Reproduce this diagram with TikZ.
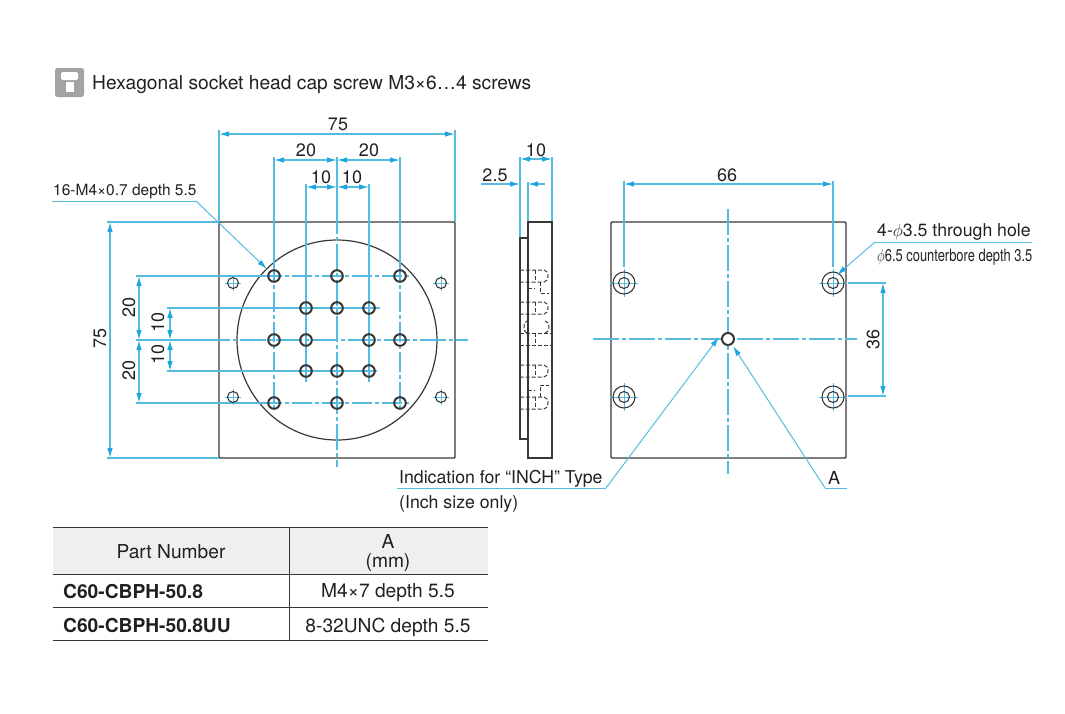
\documentclass[tikz,border=0pt]{standalone}
\usepackage{fontspec}
\setmainfont{TeX Gyre Heros}
\usetikzlibrary{arrows.meta}
\definecolor{dimblue}{HTML}{55BCDF}
\definecolor{tipblue}{HTML}{1DA6E0}
\definecolor{partline}{HTML}{3B3636}
\definecolor{inktext}{HTML}{231F20}
\definecolor{headgray}{HTML}{EFEFEF}
\definecolor{icongray}{HTML}{A3A3A3}
\tikzset{
    part/.style={draw=partline,line width=1.4pt},
    hole/.style={draw=partline,line width=2pt},
    thinhole/.style={draw=partline,line width=1.1pt},
    hidden/.style={draw=partline,line width=1pt,dash pattern=on 4pt off 2pt},
    extline/.style={draw=dimblue,line width=1.1pt},
    centerline/.style={draw=dimblue,line width=1.1pt,dash pattern=on 26pt off 3pt on 4pt off 3pt},
    shortcenter/.style={centerline,dash pattern=on 20pt off 3pt on 4pt off 3pt},
    dimline/.style={extline,{Latex[length=10pt,width=5.5pt,color=tipblue]}-{Latex[length=10pt,width=5.5pt,color=tipblue]}},
    leader/.style={extline,line width=1pt,-{Latex[length=10pt,width=5.5pt,color=tipblue]}},
    label/.style={font=\fontsize{18}{20}\selectfont,text=inktext,inner sep=0pt},
    note/.style={label,font=\fontsize{17.7}{20}\selectfont},
    tabletext/.style={label,font=\fontsize{19.2}{22}\selectfont},
    tablebold/.style={label,font=\fontsize{19.2}{22}\selectfont\bfseries},
    tablerule/.style={draw=partline,line width=0.9pt}
}
\begin{document}
\begin{tikzpicture}[x=1pt,y=-1pt]
    \useasboundingbox (0,0) rectangle (1065,713);

    % screw icon and title
    \draw[fill=icongray,draw=none,rounded corners=2.5pt] (55,68) rectangle (84,97);
    \fill[white,rounded corners=1.5pt] (61,80) -- (61,72) -- (78,72) -- (78,80) -- cycle;
    \fill[white] (66,82) rectangle (73.5,92);
    \node[tabletext,anchor=west] (title) at (92,85) {Hexagonal socket head cap screw M3×6…4 screws};

    % front plate
    \draw[part,rounded corners=1pt] (219,222) rectangle (455,458);
    \draw[part,line width=1.2pt] (337,340) circle (100);
    \draw[centerline] (204,340) -- (468,340);
    \draw[extline] (136,340) -- (204,340);
    \draw[extline] (337,157) -- (337,208);
    \draw[centerline] (337,208) -- (337,467);

    % hole lines, solid out to the dimension and centre line past the hole
    \foreach \xa in {274,400} {
        \draw[extline] (\xa,157) -- (\xa,262);
        \draw[shortcenter] (\xa,262) -- (\xa,410);
    }
    \foreach \xa in {306,369} {
        \draw[extline] (\xa,184) -- (\xa,382);
    }
    \foreach \ya in {276,403} {
        \draw[extline] (136,\ya) -- (262,\ya);
        \draw[shortcenter] (262,\ya) -- (410,\ya);
    }
    \foreach \ya/\xb in {308/380,371/377} {
        \draw[extline] (167,\ya) -- (\xb,\ya);
    }
    \draw[extline] (107,222) -- (219,222);
    \draw[extline] (107,458) -- (219,458);
    \draw[extline] (219,130) -- (219,222);
    \draw[extline] (455,130) -- (455,222);

    % tapped holes
    \foreach \xa/\ya in {274/276,337/276,400/276,306/308,337/308,369/308,274/340,306/340,369/340,400/340,306/371,337/371,369/371,274/403,337/403,400/403} {
        \draw[hole] (\xa,\ya) circle (5.8);
    }
    % small holes with cross lines
    \foreach \xa/\ya in {233/283,441/283,233/397,441/397} {
        \draw[extline,line width=1pt] (\xa-8,\ya) -- (\xa+8,\ya);
        \draw[extline,line width=1pt] (\xa,\ya-8) -- (\xa,\ya+8);
        \draw[thinhole] (\xa,\ya) circle (5.5);
    }

    % dimensions of the front plate
    \draw[dimline] (219,134) -- (455,134);
    \node[label] (d75top) at (338,124) {75};
    \draw[dimline] (274,160) -- (337,160);
    \draw[dimline] (337,160) -- (400,160);
    \node[label] (d20a) at (306,150) {20};
    \node[label] (d20b) at (369,150) {20};
    \draw[dimline] (306,187) -- (337,187);
    \draw[dimline] (337,187) -- (369,187);
    \node[label] (d10a) at (321,177) {10};
    \node[label] (d10b) at (352,177) {10};
    \draw[dimline] (110,222) -- (110,458);
    \node[label,rotate=90] (d75left) at (100,338) {75};
    \draw[dimline] (139,276) -- (139,340);
    \draw[dimline] (139,340) -- (139,403);
    \node[label,rotate=90] (d20c) at (129,307) {20};
    \node[label,rotate=90] (d20d) at (129,370) {20};
    \draw[dimline] (170,308) -- (170,340);
    \draw[dimline] (170,340) -- (170,371);
    \node[label,rotate=90] (d10c) at (158,322) {10};
    \node[label,rotate=90] (d10d) at (158,354) {10};

    % leader of the tapped holes
    \node[label,font=\fontsize{15.5}{18}\selectfont,anchor=base west] (tapnote) at (53,195) {16-M4×0.7 depth 5.5};
    \coordinate (tapkink) at (196,201);
    \coordinate (taptip) at (267,269);
    \draw[extline,line width=1pt] (52,201) -- (tapkink);
    \draw[leader] (tapkink) -- (taptip);

    % side view
    \draw[extline] (520,157) -- (520,238);
    \draw[extline] (552,157) -- (552,222);
    \draw[extline] (528,182) -- (528,222);
    \draw[part] (528,222) rectangle (552,458);
    \draw[part] (528,238) -- (520,238) -- (520,439) -- (528,439);
    \draw[partline,line width=2pt] (528,222) -- (552,222);
    \draw[partline,line width=2pt] (528,458) -- (552,458);
    \foreach \ya in {276,308,371,403} {
        \draw[hidden] (520,\ya-6) -- (544,\ya-6) arc (-90:90:4 and 6) -- (520,\ya+6);
        \draw[hidden] (535,\ya-6) -- (535,\ya+6);
    }
    \draw[hidden] (520,333) -- (552,333);
    \draw[hidden] (520,345) -- (552,345);
    \draw[hidden] (527,333) arc (90:270:3 and 6);
    \draw[hidden] (535,333) -- (535,345);
    \draw[hidden] (545,333) arc (90:-90:4 and 6);
    \draw[hidden] (540,282) -- (540,293) -- (549,293);
    \draw[hidden] (528,288) -- (535,288);
    \draw[hidden] (540,397) -- (540,385) -- (549,385);
    \draw[hidden] (528,390) -- (535,390);

    \draw[dimline] (520,159) -- (552,159);
    \node[label] (d10side) at (536,150) {10};
    \draw[extline,-{Latex[length=10pt,width=5.5pt,color=tipblue]}] (481,184) -- (520,184);
    \draw[extline,{Latex[length=10pt,width=5.5pt,color=tipblue]}-] (528,184) -- (545,184);
    \node[label] (d25) at (495,175) {2.5};

    % rear plate
    \draw[part,rounded corners=1pt] (611,222) rectangle (846,458);
    \draw[centerline] (593,339) -- (857,339);
    \draw[centerline] (728,209) -- (728,474);
    \foreach \xa/\ya in {624/283,833/283,624/397,833/397} {
        \draw[extline,line width=1pt] (\xa-14,\ya) -- (\xa+14,\ya);
        \draw[extline,line width=1pt] (\xa,\ya-14) -- (\xa,\ya+14);
        \draw[thinhole] (\xa,\ya) circle (11);
        \draw[thinhole] (\xa,\ya) circle (5.5);
    }
    \draw[hole,fill=white] (728,339) circle (6);

    \draw[extline] (624,181) -- (624,267);
    \draw[extline] (833,181) -- (833,267);
    \draw[dimline] (624,184) -- (833,184);
    \node[label] (d66) at (727,175) {66};
    \draw[extline] (848,283) -- (886,283);
    \draw[extline] (848,396) -- (886,396);
    \draw[dimline] (883,283) -- (883,396);
    \node[label,rotate=90] (d36) at (873,339) {36};

    % leader of the counterbore holes
    \node[note,anchor=base west] (thrunote) at (877,236) {4-$\phi$3.5 through hole};
    \node[note,anchor=base west,font=\fontsize{17}{18}\selectfont] (borenote) at (877,261) {\scalebox{0.76}[1]{$\phi$6.5 counterbore depth 3.5}};
    \coordinate (borekink) at (875,242);
    \coordinate (boretip) at (837,275);
    \draw[extline,line width=1pt] (1032,242) -- (borekink);
    \draw[leader] (borekink) -- (boretip);

    % leaders of the centre hole
    \node[note,anchor=base west] (inchnote) at (399,483) {Indication for “INCH” Type};
    \node[note,anchor=base west] (inchonly) at (399,508) {(Inch size only)};
    \coordinate (inchkink) at (606,488);
    \coordinate (inchtip) at (719,337);
    \draw[extline,line width=1pt] (397,488) -- (inchkink);
    \draw[leader] (inchkink) -- (inchtip);
    \node[label] (holeA) at (834,478) {A};
    \coordinate (holekink) at (825,488);
    \coordinate (holetip) at (733,346);
    \draw[extline,line width=1pt] (847,488) -- (holekink);
    \draw[leader] (holekink) -- (holetip);

    % table
    \fill[headgray] (53,527) rectangle (488,574);
    \foreach \ya in {527,574,607,640} {
        \draw[tablerule] (53,\ya) -- (488,\ya);
    }
    \draw[tablerule] (289,527) -- (289,640);
    \node[tabletext] (headpart) at (171,552) {Part Number};
    \node[tabletext] (headA) at (388,541) {A};
    \node[tabletext] (headmm) at (388,562.5) {(mm)};
    \node[tablebold,anchor=west] (rowa) at (63,591) {C60-CBPH-50.8};
    \node[tablebold,anchor=west] (rowb) at (63,625) {C60-CBPH-50.8UU};
    \node[tabletext] (vala) at (388,593) {M4×7 depth 5.5};
    \node[tabletext] (valb) at (388,627) {8-32UNC depth 5.5};
\end{tikzpicture}
\end{document}
